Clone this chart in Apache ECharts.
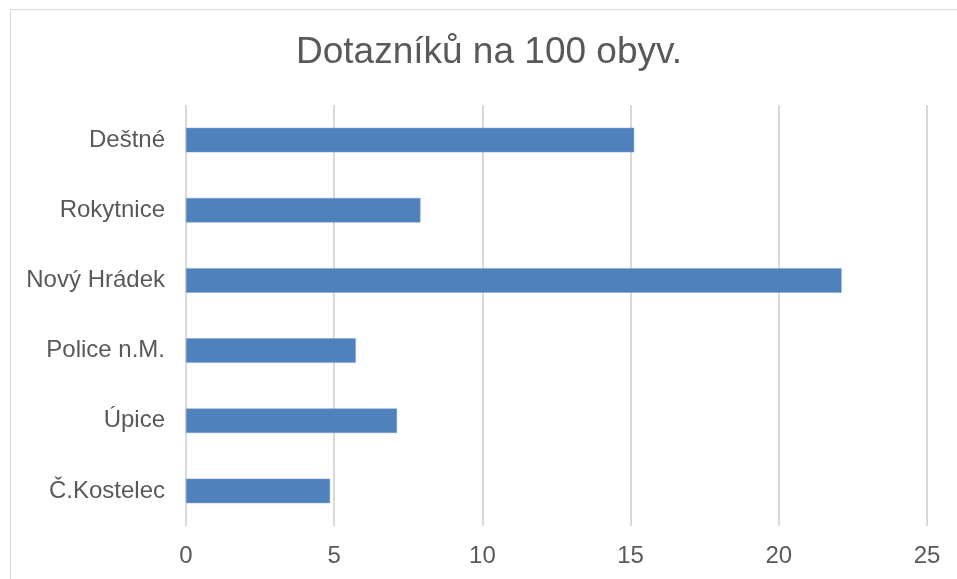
<!DOCTYPE html>
<html>
<head>
<meta charset="utf-8">
<script src="https://cdn.jsdelivr.net/npm/echarts@6/dist/echarts.min.js"></script>
<style>
html,body{margin:0;padding:0;background:#fff;}
#c{width:957px;height:579px;}
</style>
</head>
<body>
<div id="c"></div>
<script>
const titleText = 'Dotazníků na 100 obyv.';
const categories = ['Č.Kostelec', 'Úpice', 'Police n.M.', 'Nový Hrádek', 'Rokytnice', 'Deštné'];
const values = [4.86, 7.12, 5.73, 22.12, 7.91, 15.12];
const xTicks = [0, 5, 10, 15, 20, 25];

const chart = echarts.init(document.getElementById('c'), null, {renderer: 'canvas'});
const font = '"Liberation Sans", Arial, sans-serif';
chart.setOption({
  animation: false,
  backgroundColor: '#ffffff',
  graphic: [{
    type: 'rect',
    shape: {x: 10.5, y: 9.5, width: 1000, height: 1000},
    style: {fill: 'none', stroke: '#d9d9d9', lineWidth: 1},
    z: -1
  }],
  title: {
    text: titleText,
    left: 291,
    top: 29,
    textStyle: {fontFamily: font, fontSize: 37, fontWeight: 'normal', color: '#595959'}
  },
  grid: {left: 186, right: 30, top: 105, bottom: 53, containLabel: false},
  xAxis: {
    type: 'value',
    min: xTicks[0],
    max: xTicks[xTicks.length - 1],
    interval: 5,
    axisLine: {show: false},
    axisTick: {show: false},
    axisLabel: {fontFamily: font, fontSize: 24, color: '#595959', margin: 18},
    splitLine: {show: true, lineStyle: {color: '#d9d9d9', width: 2}}
  },
  yAxis: {
    type: 'category',
    data: categories,
    axisLine: {show: false},
    axisTick: {show: false},
    axisLabel: {fontFamily: font, fontSize: 24, color: '#595959', margin: 21}
  },
  series: [{
    type: 'bar',
    data: values,
    barWidth: '35%',
    itemStyle: {color: '#4f81bd', borderColor: '#7ea3d4', borderWidth: 0.5}
  }]
});
</script>
</body>
</html>
